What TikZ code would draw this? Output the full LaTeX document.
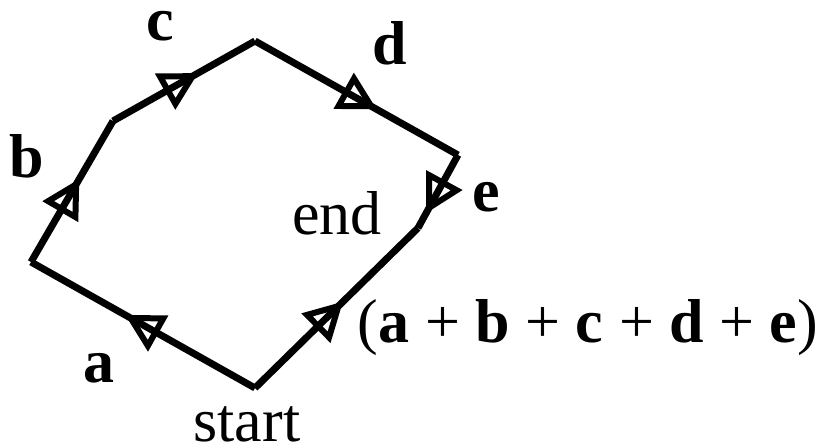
\documentclass[tikz,border=0pt]{standalone}
\usepackage{fontspec}
\setmainfont{Liberation Serif}
\usetikzlibrary{arrows.meta, decorations.markings}

\begin{document}
\begin{tikzpicture}[
  x=1bp, y=-1bp,
  edge/.style    = {line width=7bp, line join=miter},
  midarrow/.style = {postaction={decorate}, decoration={markings,
                    mark=at position #1 with {\arrow[line width=6bp]{Triangle[open, length=38bp, width=40bp]}}}},
  lbl/.style     = {font=\fontsize{62bp}{70bp}\selectfont\bfseries, anchor=base, inner sep=0pt},
  txt/.style     = {font=\fontsize{62bp}{70bp}\selectfont, anchor=base, inner sep=0pt},
]
  \useasboundingbox (0,0) rectangle (827,448);

  % corners of the path
  \coordinate (start) at (255,388);
  \coordinate (pa)    at (31,262);
  \coordinate (pb)    at (113,121);
  \coordinate (pc)    at (255,41);
  \coordinate (pd)    at (458,155);
  \coordinate (end)   at (418,228);

  \draw[edge, midarrow=0.58] (start) -- (pa);
  \draw[edge, midarrow=0.59] (pa)    -- (pb);
  \draw[edge, midarrow=0.6]  (pb)    -- (pc);
  \draw[edge, midarrow=0.6]  (pc)    -- (pd);
  \draw[edge, midarrow=0.8]  (pd)    -- (end);
  \draw[edge, midarrow=0.54] (start) -- (end);

  \node[lbl] (la) at (99,383)  {a};
  \node[lbl] (lb) at (27,178)  {b};
  \node[lbl, text height=30bp] (lc) at (160,41) {c};
  \node[lbl] (ld) at (390,65)  {d};
  \node[lbl] (le) at (486,212) {e};

  \node[txt, text depth=0pt] (tstart) at (247,441) {start};
  \node[txt] (tend)   at (337,235) {end};
  \node[txt] (tsum)   at (588,343) {(\textbf{a} + \textbf{b} + \textbf{c} + \textbf{d} + \textbf{e})};
\end{tikzpicture}
\end{document}
